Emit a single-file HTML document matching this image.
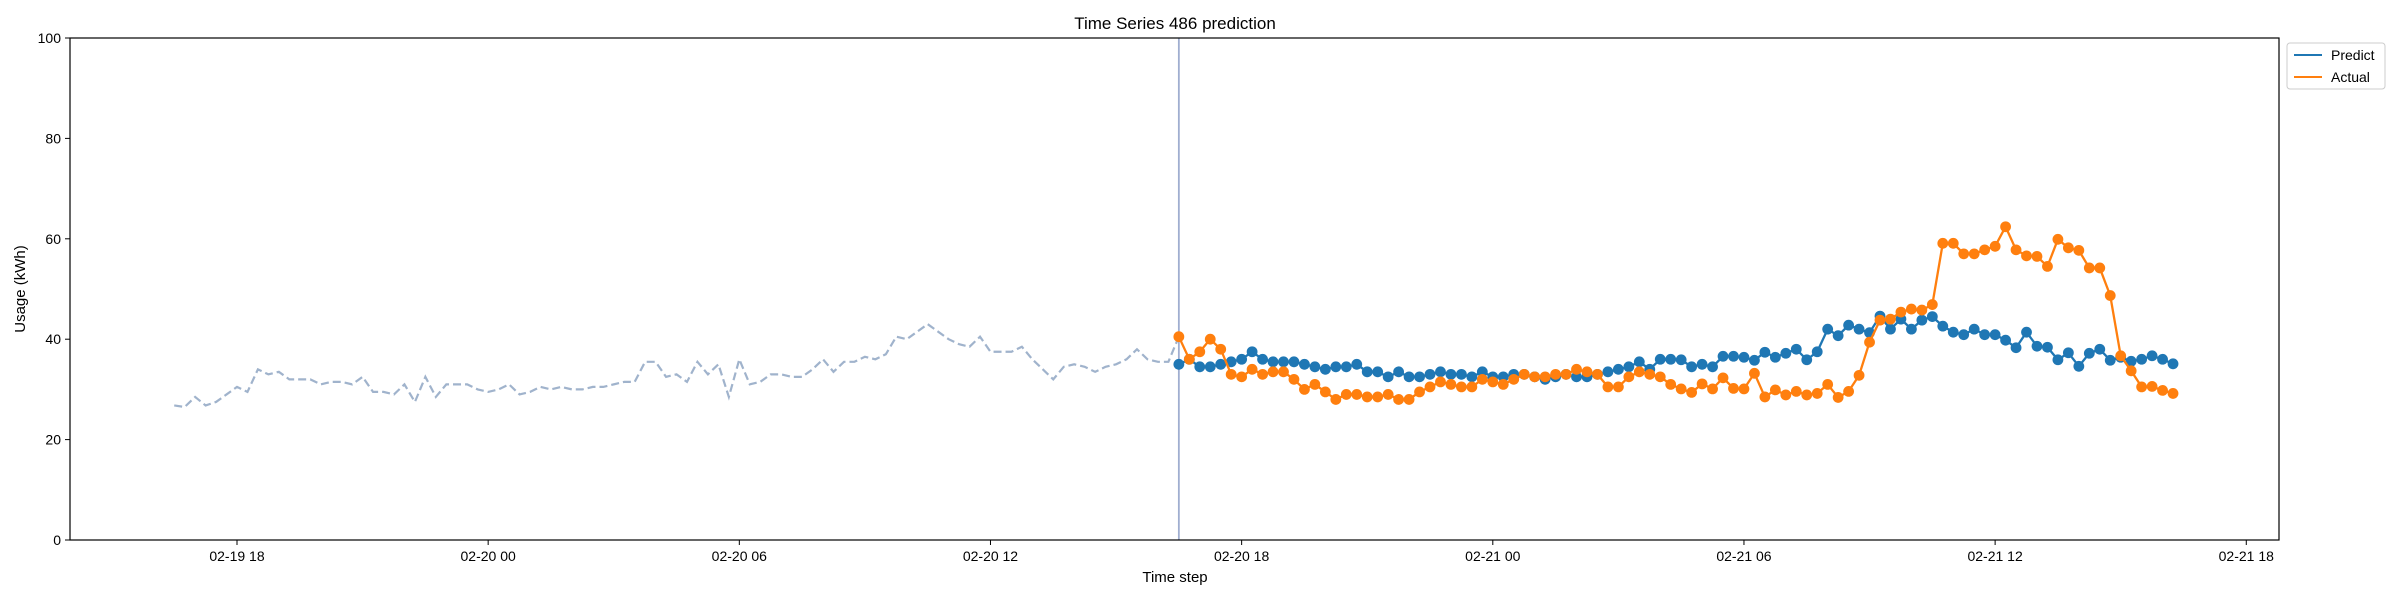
<!DOCTYPE html>
<html><head><meta charset="utf-8"><style>
body{margin:0;background:#fff;}
svg text{font-family:"Liberation Sans","DejaVu Sans",sans-serif;fill:#000;}
</style></head><body>
<svg id="chart" width="2400" height="600" xmlns="http://www.w3.org/2000/svg">
<rect width="2400" height="600" fill="#fff"/>
<text x="1175" y="29" font-size="17" text-anchor="middle">Time Series 486 prediction</text>
<g id="grid"></g>
<g id="marks"></g>
<rect x="70" y="38" width="2209" height="502" fill="none" stroke="#000" stroke-width="1.2"/>
<text x="1175" y="582" font-size="15" text-anchor="middle">Time step</text>
<text x="0" y="0" font-size="15" text-anchor="middle" transform="translate(25,289) rotate(-90)">Usage (kWh)</text>
<g>
<rect x="2287" y="43" width="98" height="46" fill="#fff" stroke="#ccc" rx="3"/>
<line x1="2294" y1="55" x2="2322" y2="55" stroke="#1f77b4" stroke-width="2"/>
<text x="2331" y="60" font-size="14">Predict</text>
<line x1="2294" y1="77" x2="2322" y2="77" stroke="#ff7f0e" stroke-width="2"/>
<text x="2331" y="82" font-size="14">Actual</text>
</g>
</svg>
<script>
const history = [26.8,26.5,28.5,26.8,27.5,29,30.5,29.5,34,33,33.5,32,32,32,31,31.5,31.5,31,32.5,29.5,29.5,29,31,27.5,32.5,28.5,31,31,31,30,29.5,30,31,29,29.5,30.5,30,30.5,30,30,30.5,30.5,31,31.5,31.5,35.5,35.5,32.5,33,31.5,35.5,33,35,28.5,36,31,31.5,33,33,32.5,32.5,34,36,33.5,35.5,35.5,36.5,36,37,40.5,40,41.5,43,41.5,40,39,38.5,40.5,37.5,37.5,37.5,38.5,36,34,32,34.5,35,34.5,33.5,34.5,35,36,38,36,35.5,35.5,40.5];
const predict = [35,36,34.5,34.5,35,35.5,36,37.5,36,35.5,35.5,35.5,35,34.5,34,34.5,34.5,35,33.5,33.5,32.5,33.5,32.5,32.5,33,33.5,33,33,32.5,33.5,32.5,32.5,33,33,32.5,32,32.5,33,32.5,32.5,33,33.5,34,34.5,35.5,34,36,36,
35.9,34.5,35,34.5,36.6,36.6,36.4,35.8,37.4,36.4,37.2,38.0,35.9,37.5,42,40.7,42.8,42,41.3,44.6,42,44,42,43.8,44.5,42.6,41.4,40.9,42,40.9,40.9,39.8,38.3,41.4,38.6,38.4,35.9,37.3,34.6,37.2,38,35.8,36.4,35.6,36,36.7,36,35.1];
const actual = [40.5,36,37.5,40,38,33,32.5,34,33,33.5,33.5,32,30,31,29.5,28,29,29,28.5,28.5,29,28,28,29.5,30.5,31.5,31,30.5,30.5,32,31.5,31,32,33,32.5,32.5,33,33,34,33.5,33,30.5,30.5,32.5,33.5,33,32.5,31,
30.1,29.4,31.1,30.1,32.3,30.2,30.1,33.2,28.5,29.9,28.9,29.6,28.9,29.2,31,28.4,29.6,32.8,39.4,43.8,44,45.4,46,45.8,46.9,59.1,59.1,57,57,57.8,58.5,62.4,57.8,56.6,56.5,54.5,59.9,58.2,57.7,54.2,54.2,48.7,36.7,33.7,30.5,30.6,29.8,29.2];
const yTicks = [0,20,40,60,80,100];
const xTickHours = [18,24,30,36,42,48,54,60,66];
const xTickLabels = ["02-19 18","02-20 00","02-20 06","02-20 12","02-20 18","02-21 00","02-21 06","02-21 12","02-21 18"];
const splitHour = 40.5;
const stepHours = 0.25;

const NS = "http://www.w3.org/2000/svg";
function X(h){ return 237 + (h-18)*41.86; }
function Y(v){ return 540 - v*5.02; }
function mk(tag, attrs, parent){ const e=document.createElementNS(NS,tag); for(const k in attrs) e.setAttribute(k,attrs[k]); parent.appendChild(e); return e; }
const grid=document.getElementById('grid'), marks=document.getElementById('marks');

yTicks.forEach(v=>{
  const t=mk('line',{x1:65,x2:70,y1:Y(v),y2:Y(v),stroke:'#000'},grid);
  
  
  const l=mk('text',{x:61,y:Y(v)+5,'font-size':14,'text-anchor':'end'},grid);
  l.textContent=v;
  
  
});
xTickHours.forEach((h,i)=>{
  const t=mk('line',{x1:X(h),x2:X(h),y1:540,y2:545,stroke:'#000'},grid);
  
  
  const l=mk('text',{x:X(h),y:561,'font-size':14,'text-anchor':'middle'},grid);
  l.textContent=xTickLabels[i];
  
  
});

const hx = i => splitHour - (history.length-1-i)*stepHours;
const px = i => splitHour + i*stepHours;
const hist=mk('polyline',{points:history.map((v,i)=>X(hx(i))+','+Y(v)).join(' '),fill:'none',stroke:'#a0b3cc','stroke-width':2.2,'stroke-dasharray':'8,4'},marks);


const vl=mk('line',{x1:X(splitHour),x2:X(splitHour),y1:38,y2:540,stroke:'#a0aed0','stroke-width':1.8},marks);



function series(arr,color,name){
  const g=mk('g',{},marks);
  
  
  mk('polyline',{points:arr.map((v,i)=>X(px(i))+','+Y(v)).join(' '),fill:'none',stroke:color,'stroke-width':2.3},g);
  arr.forEach((v,i)=>{
    const c=mk('circle',{cx:X(px(i)),cy:Y(v),r:5.4,fill:color},g);
    
    
  });
}
series(predict,'#1f77b4','predict');
series(actual,'#ff7f0e','actual');
</script>
</body></html>
